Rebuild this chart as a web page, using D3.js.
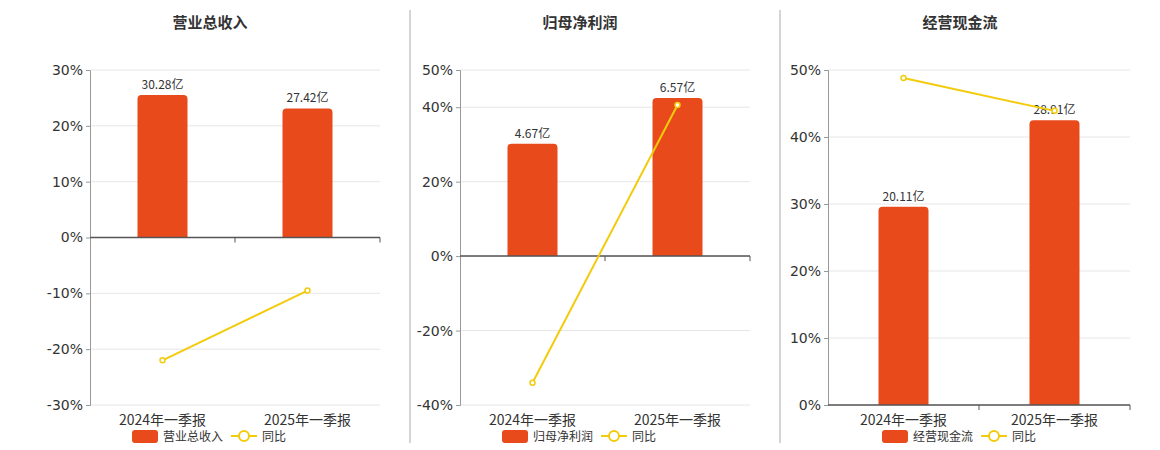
<!DOCTYPE html>
<html><head><meta charset="utf-8">
<script src="https://cdn.jsdelivr.net/npm/d3@7"></script>
<style>body{margin:0;background:#fff;font-family:"Noto Sans CJK SC","Noto Sans",sans-serif;}</style>
</head><body>
<svg id="c" width="1160" height="450"></svg>
<script>
const categories = ["2024年一季报", "2025年一季报"]
const titles = ["营业总收入", "归母净利润", "经营现金流"]
const barValues = [[30.28, 27.42], [4.67, 6.57], [20.11, 28.91]]
const lineValues = [[-22, -9.5], [-34, 40.6], [48.8, 43.9]]
const pctDomains = [[-30, 30], [-40, 50], [0, 50]]
const pctTicks = [[-30, -20, -10, 0, 10, 20, 30], [-40, -20, 0, 20, 40, 50], [0, 10, 20, 30, 40, 50]]
const barMax = [35.6, 7.73, 34.0]

const svg = d3.select("#c")
const panels = [{x0: 90, x1: 380, cx: 210}, {x0: 460, x1: 750, cx: 580}, {x0: 828, x1: 1130, cx: 960}]
const plotTop = 70, plotBottom = 405
const red = "#E84A1C", yellow = "#F2CC0C"

// dividers
;[410, 780].forEach(x => svg.append("line").attr("x1", x).attr("x2", x).attr("y1", 10).attr("y2", 443).attr("stroke", "#aaa"))

panels.forEach((p, i) => {
    const g = svg.append("g")
    const y = d3.scaleLinear().domain(pctDomains[i]).range([plotBottom, plotTop])
    const x = d3.scaleBand().domain(categories).range([p.x0, p.x1])
    const zero = y(0)
    // bar scale shares zero with pct axis
    const yb = d3.scaleLinear().domain([0, barMax[i]]).range([zero, plotTop])

    g.append("text").attr("x", p.cx).attr("y", 28).attr("text-anchor", "middle")
        .attr("font-size", 15).attr("font-weight", "bold").attr("fill", "#333").text(titles[i])

    // grid
    g.selectAll(".grid").data(pctTicks[i]).join("line")
        .attr("x1", p.x0).attr("x2", p.x1).attr("y1", d => y(d)).attr("y2", d => y(d))
        .attr("stroke", "#e6e6e6")

    // left axis
    const ax = g.append("g").attr("transform", `translate(${p.x0},0)`)
        .call(d3.axisLeft(y).tickValues(pctTicks[i]).tickFormat(d => d + "%").tickSize(4))
    ax.select(".domain").attr("stroke", "#999")
    ax.selectAll(".tick line").attr("stroke", "#999")
    ax.selectAll("text").attr("font-size", 14).attr("fill", "#333").attr("font-family", "DejaVu Sans")

    // bars
    g.selectAll(".bar").data(barValues[i]).join("path")
        .attr("fill", red)
        .attr("d", (d, j) => {
            const bw = 50, bx = x(categories[j]) + x.bandwidth() / 2 - bw / 2
            const by = yb(d), r = 4
            return `M${bx},${zero}V${by + r}Q${bx},${by} ${bx + r},${by}H${bx + bw - r}Q${bx + bw},${by} ${bx + bw},${by + r}V${zero}Z`
        })
    g.selectAll(".blab").data(barValues[i]).join("text")
        .attr("x", (d, j) => x(categories[j]) + x.bandwidth() / 2).attr("y", d => yb(d) - 6)
        .attr("text-anchor", "middle").attr("font-size", 12).attr("fill", "#333").text(d => d.toFixed(2) + "亿")

    // zero axis
    g.append("line").attr("x1", p.x0).attr("x2", p.x1).attr("y1", zero).attr("y2", zero).attr("stroke", "#555").attr("stroke-width", 1.5)
    ;[p.x0 + x.bandwidth(), p.x1].forEach(tx => g.append("line").attr("x1", tx).attr("x2", tx).attr("y1", zero).attr("y2", zero + 5).attr("stroke", "#555"))

    // category labels
    g.selectAll(".cat").data(categories).join("text")
        .attr("x", d => x(d) + x.bandwidth() / 2).attr("y", 425).attr("text-anchor", "middle")
        .attr("font-size", 14).attr("fill", "#333").text(d => d)

    // line
    const pts = lineValues[i].map((v, j) => [x(categories[j]) + x.bandwidth() / 2, y(v)])
    g.append("path").attr("d", d3.line()(pts)).attr("fill", "none").attr("stroke", yellow).attr("stroke-width", 2)
    g.selectAll(".pt").data(pts).join("circle").attr("cx", d => d[0]).attr("cy", d => d[1]).attr("r", 2.5)
        .attr("fill", "#fff").attr("stroke", yellow).attr("stroke-width", 1.5)

    // legend
    const lx = p.cx - 78
    const lg = g.append("g").attr("transform", `translate(${lx},436)`)
    lg.append("rect").attr("x", 0).attr("y", -6).attr("width", 26).attr("height", 13).attr("rx", 3).attr("fill", red)
    lg.append("text").attr("x", 31).attr("y", 5).attr("font-size", 12).attr("fill", "#333").text(titles[i])
    const l2 = 31 + titles[i].length * 12 + 8
    lg.append("line").attr("x1", l2).attr("x2", l2 + 26).attr("y1", 0).attr("y2", 0).attr("stroke", yellow).attr("stroke-width", 2)
    lg.append("circle").attr("cx", l2 + 13).attr("cy", 0).attr("r", 5).attr("fill", "#fff").attr("stroke", yellow).attr("stroke-width", 2)
    lg.append("text").attr("x", l2 + 31).attr("y", 5).attr("font-size", 12).attr("fill", "#333").text("同比")
})
</script>
</body></html>
